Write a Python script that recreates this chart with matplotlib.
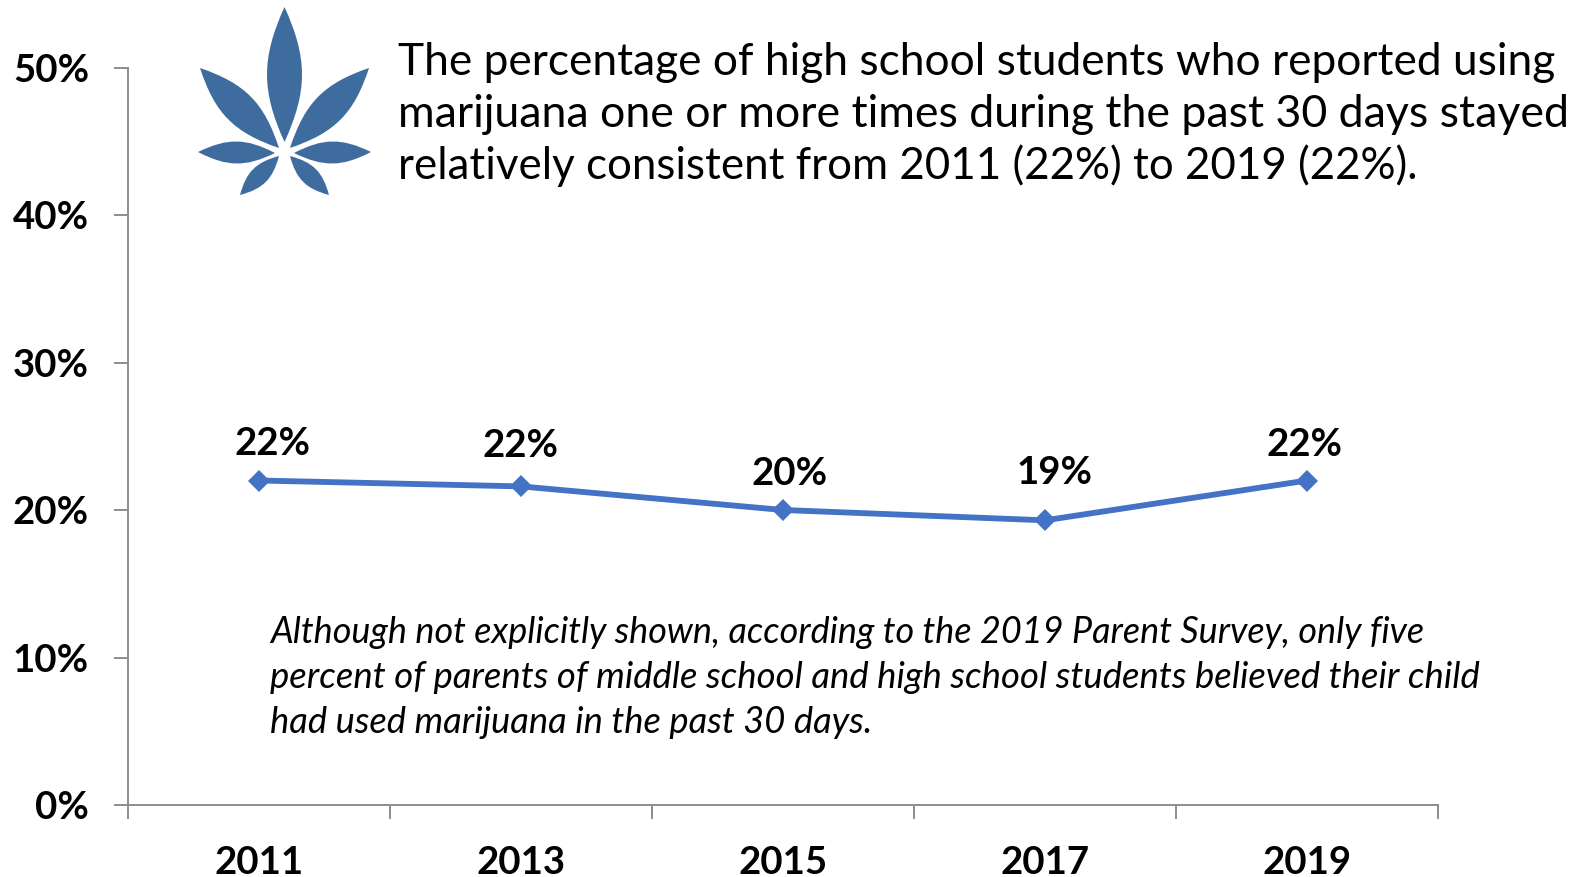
import matplotlib
matplotlib.use("Agg")
import matplotlib.pyplot as plt
from matplotlib.patches import PathPatch
from matplotlib.path import Path
from matplotlib.ticker import FuncFormatter, MultipleLocator
import numpy as np

years = ["2011", "2013", "2015", "2017", "2019"]
percent_used = [22, 21.6, 20, 19.3, 22]

heading_lines = [
    "The percentage of high school students who reported using",
    "marijuana one or more times during the past 30 days stayed",
    "relatively consistent from 2011 (22%) to 2019 (22%).",
]
note_lines = [
    "Although not explicitly shown, according to the 2019 Parent Survey, only five",
    "percent of parents of middle school and high school students believed their child",
    "had used marijuana in the past 30 days.",
]

W, H = 1581, 877
LINE_BLUE = "#4472C4"
LEAF_BLUE = "#3F6C9F"
AXIS_GREY = "#8C8C8C"

plt.rcParams["font.family"] = ["Lato", "DejaVu Sans"]

fig = plt.figure(figsize=(W / 100, H / 100), dpi=100)
ax = fig.add_axes([128 / W, 1 - 805 / H, 1310 / W, 737.5 / H])

x = np.arange(len(years))
ax.plot(x, percent_used, color=LINE_BLUE, lw=4.2, marker="D", ms=11, mew=0,
        solid_joinstyle="round", clip_on=False)

label_offsets = [(10, 14), (0, 17), (5, 14), (7, 22), (-2, 13)]
for xi, v, offset in zip(x, percent_used, label_offsets):
    ax.annotate(f"{v:.0f}%", (xi, v), xytext=offset, textcoords="offset points",
                ha="center", va="bottom", fontsize=27.6, fontweight="bold", color="black")

ax.set_xlim(-0.5, 4.5)
ax.set_ylim(0, 50)
ax.yaxis.set_major_locator(MultipleLocator(10))
ax.yaxis.set_major_formatter(FuncFormatter(lambda v, _: f"{v:.0f}%"))
ax.set_xticks(x, years)
ax.set_xticks(np.arange(-0.5, 5), minor=True)

for side in ["top", "right"]:
    ax.spines[side].set_visible(False)
for side in ["left", "bottom"]:
    ax.spines[side].set_color(AXIS_GREY)
    ax.spines[side].set_linewidth(1.4)

ax.tick_params(axis="y", length=10, width=1.4, color=AXIS_GREY, pad=18, labelsize=27.6)
ax.tick_params(axis="x", which="major", length=0, pad=29.5, labelsize=27.6)
ax.tick_params(axis="x", which="minor", length=10, width=1.4, color=AXIS_GREY)
for lab in ax.get_xticklabels() + ax.get_yticklabels():
    lab.set_fontweight("bold")

# overlay in pixel coordinates for the leaf and the text blocks
over = fig.add_axes([0, 0, 1, 1])
over.set_xlim(0, W)
over.set_ylim(H, 0)
over.axis("off")


def leaf(tip, base, bulge):
    tip = np.array(tip, float)
    base = np.array(base, float)
    d = base - tip
    n = np.array([-d[1], d[0]]) / np.hypot(*d)
    off = n * bulge / 0.75
    verts = [tip,
             tip + d * 0.38 + off, tip + d * 0.62 + off, base,
             tip + d * 0.62 - off, tip + d * 0.38 - off, tip,
             tip]
    codes = [Path.MOVETO, Path.CURVE4, Path.CURVE4, Path.CURVE4,
             Path.CURVE4, Path.CURVE4, Path.CURVE4, Path.CLOSEPOLY]
    over.add_patch(PathPatch(Path(verts, codes), fc=LEAF_BLUE, ec="none"))


leaf((284.5, 7), (284.5, 142), 17.5)
leaf((200, 68), (279, 148), 16)
leaf((369, 68), (290, 148), 16)
leaf((198, 152), (275, 153), 11)
leaf((371, 152), (294, 153), 11)
leaf((240, 195), (279, 156), 9)
leaf((329, 195), (290, 156), 9)

heading_sizes = [31.9, 32.1, 31.6]
for y, line, size in zip([62.5, 114.5, 166], heading_lines, heading_sizes):
    over.text(398, y, line, fontsize=size, va="center", ha="left", color="black")

note_sizes = [25.9, 26.3, 26.2]
for y, line, size in zip([632.5, 677, 722.5], note_lines, note_sizes):
    over.text(270, y, line, fontsize=size, style="italic", va="center", ha="left", color="black")

fig.savefig("out.png", dpi=100)
